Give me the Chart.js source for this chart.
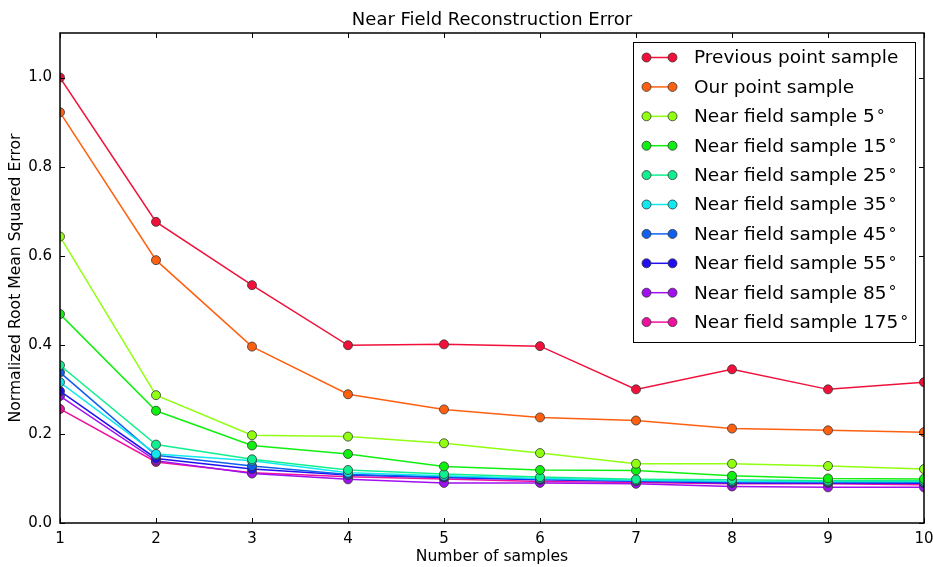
<!DOCTYPE html>
<html>
<head>
<meta charset="utf-8">
<script src="https://cdn.jsdelivr.net/npm/chart.js@4.4.0/dist/chart.umd.min.js"></script>
<style>
  html, body { margin: 0; padding: 0; background: #ffffff; }
  canvas { display: block; }
</style>
</head>
<body>
<canvas id="lineChart" width="933" height="567"></canvas>
<script>
// values
var samples = [1, 2, 3, 4, 5, 6, 7, 8, 9, 10];
var yTicks = [0.0, 0.2, 0.4, 0.6, 0.8, 1.0];

var seriesNames = [
    'Previous point sample',
    'Our point sample',
    'Near field sample 5°',
    'Near field sample 15°',
    'Near field sample 25°',
    'Near field sample 35°',
    'Near field sample 45°',
    'Near field sample 55°',
    'Near field sample 85°',
    'Near field sample 175°'
];
var seriesColors = ['#f0103a', '#ff6010', '#90ff10', '#10f010', '#10f090', '#10e8f0', '#1060f0', '#2010f0', '#a010f0', '#f010a0'];

var previousPoint = [1.000, 0.676, 0.534, 0.399, 0.401, 0.397, 0.300, 0.345, 0.300, 0.316];
var ourPoint      = [0.922, 0.590, 0.396, 0.289, 0.255, 0.237, 0.230, 0.212, 0.208, 0.204];
var near5         = [0.643, 0.287, 0.197, 0.194, 0.179, 0.157, 0.133, 0.133, 0.128, 0.121];
var near15        = [0.469, 0.252, 0.174, 0.155, 0.127, 0.119, 0.118, 0.106, 0.100, 0.099];
var near25        = [0.354, 0.176, 0.143, 0.119, 0.110, 0.103, 0.098, 0.097, 0.095, 0.095];
var near35        = [0.316, 0.155, 0.140, 0.113, 0.106, 0.100, 0.096, 0.094, 0.093, 0.093];
var near45        = [0.338, 0.152, 0.128, 0.109, 0.104, 0.099, 0.095, 0.092, 0.092, 0.091];
var near55        = [0.296, 0.145, 0.121, 0.108, 0.102, 0.097, 0.094, 0.090, 0.090, 0.089];
var near85        = [0.285, 0.140, 0.111, 0.098, 0.090, 0.090, 0.088, 0.082, 0.080, 0.080];
var near175       = [0.256, 0.137, 0.113, 0.104, 0.099, 0.093, 0.091, 0.088, 0.088, 0.086];

var allSeries = [previousPoint, ourPoint, near5, near15, near25, near35, near45, near55, near85, near175];

var FONT = "'DejaVu Sans', 'Liberation Sans', sans-serif";

// frame, inside ticks, title and the boxed legend (matplotlib look)
var framePlugin = {
    id: 'frame',
    afterDatasetsDraw: function (chart) {
        var ctx = chart.ctx;
        var a = chart.chartArea;
        var xs = chart.scales.x, ys = chart.scales.y;
        ctx.save();
        ctx.strokeStyle = '#000';
        ctx.lineWidth = 1;
        ctx.beginPath();
        samples.forEach(function (s) {
            var px = Math.round(xs.getPixelForValue(s)) + 0.5;
            ctx.moveTo(px, a.bottom); ctx.lineTo(px, a.bottom - 5);
            ctx.moveTo(px, a.top); ctx.lineTo(px, a.top + 5);
        });
        yTicks.forEach(function (t) {
            var py = Math.round(ys.getPixelForValue(t)) + 0.5;
            ctx.moveTo(a.left, py); ctx.lineTo(a.left + 5, py);
            ctx.moveTo(a.right, py); ctx.lineTo(a.right - 5, py);
        });
        ctx.stroke();
        ctx.lineWidth = 1.5;
        ctx.strokeRect(a.left, a.top, a.right - a.left, a.bottom - a.top);

        // title
        ctx.fillStyle = '#000';
        ctx.font = '18px ' + FONT;
        ctx.textAlign = 'center';
        ctx.textBaseline = 'middle';
        ctx.fillText('Near Field Reconstruction Error', (a.left + a.right) / 2, 20);

        // legend
        var bx = 633, by = 42, bw = 282, bh = 300;
        ctx.fillStyle = '#fff';
        ctx.fillRect(bx, by, bw, bh);
        ctx.strokeStyle = '#000';
        ctx.lineWidth = 1;
        ctx.strokeRect(bx + 0.5, by + 0.5, bw, bh);
        chart.data.datasets.forEach(function (ds, i) {
            var ry = 57.5 + i * 29.4;
            ctx.strokeStyle = ds.borderColor;
            ctx.lineWidth = 1.5;
            ctx.beginPath();
            ctx.moveTo(646.5, ry); ctx.lineTo(672.5, ry);
            ctx.stroke();
            [646.5, 672.5].forEach(function (mx) {
                ctx.beginPath();
                ctx.arc(mx, ry, 4.5, 0, Math.PI * 2);
                ctx.fillStyle = ds.pointBackgroundColor;
                ctx.fill();
                ctx.strokeStyle = '#333';
                ctx.lineWidth = 0.8;
                ctx.stroke();
            });
            var label = ds.label;
            var deg = label.slice(-1) === '°';
            if (deg) label = label.slice(0, -1);
            ctx.fillStyle = '#000';
            ctx.font = '18.5px ' + FONT;
            ctx.textAlign = 'left';
            ctx.textBaseline = 'middle';
            ctx.fillText(label, 694, ry + 1);
            if (deg) {
                var w = ctx.measureText(label).width;
                ctx.font = '16px ' + FONT;
                ctx.fillText('°', 694 + w + 2, ry + 0.5);
            }
        });
        ctx.restore();
    }
};

var datasets = allSeries.map(function (vals, i) {
    return {
        label: seriesNames[i],
        data: samples.map(function (s, j) { return { x: s, y: vals[j] }; }),
        borderColor: seriesColors[i],
        backgroundColor: seriesColors[i],
        pointBackgroundColor: seriesColors[i],
        pointBorderColor: '#333',
        pointBorderWidth: 0.8,
        pointRadius: 4.5,
        borderWidth: 1.5,
        tension: 0,
        fill: false
    };
});

new Chart(document.querySelector('#lineChart'), {
    type: 'line',
    data: { datasets: datasets },
    plugins: [framePlugin],
    options: {
        responsive: false,
        animation: false,
        devicePixelRatio: 1,
        layout: { padding: { top: 33, right: 9, left: 0, bottom: 0 } },
        plugins: {
            legend: { display: false },
            title: { display: false },
            tooltip: { enabled: false }
        },
        scales: {
            x: {
                type: 'linear',
                min: 1,
                max: 10,
                afterFit: function (scale) {
                    scale.height = 44;
                    scale.paddingLeft = 0;
                    scale.paddingRight = 0;
                },
                afterBuildTicks: function (scale) {
                    scale.ticks = samples.map(function (s) { return { value: s }; });
                },
                border: { display: false },
                grid: { display: false, drawTicks: false },
                ticks: {
                    padding: 7,
                    color: '#000',
                    font: { family: FONT, size: 15 },
                    callback: function (v) { return String(v); }
                },
                title: {
                    display: true,
                    text: 'Number of samples',
                    color: '#000',
                    font: { family: FONT, size: 15.6 },
                    padding: { top: 0, bottom: 1 }
                }
            },
            y: {
                type: 'linear',
                min: 0,
                max: 1.1,
                afterFit: function (scale) {
                    scale.width = 60;
                    scale.paddingTop = 0;
                    scale.paddingBottom = 0;
                },
                afterBuildTicks: function (scale) {
                    scale.ticks = yTicks.map(function (t) { return { value: t }; });
                },
                border: { display: false },
                grid: { display: false, drawTicks: false },
                ticks: {
                    padding: 8,
                    color: '#000',
                    font: { family: FONT, size: 15 },
                    callback: function (v) { return Number(v).toFixed(1); }
                },
                title: {
                    display: true,
                    text: 'Normalized Root Mean Squared Error',
                    color: '#000',
                    font: { family: FONT, size: 15.6 },
                    padding: { top: 7, bottom: 0 }
                }
            }
        }
    }
});
</script>
</body>
</html>
